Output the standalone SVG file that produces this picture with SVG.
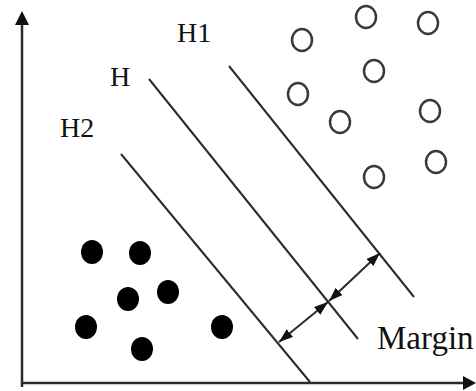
<svg xmlns="http://www.w3.org/2000/svg" width="476" height="391" viewBox="0 0 476 391">
  <defs>
    <style>
      .axis { stroke: #2b2b2b; stroke-width: 2.5; fill: none; }
      .hyper { stroke: #2b2b2b; stroke-width: 2; fill: none; }
      .margin-arrow { stroke: #2b2b2b; stroke-width: 2; fill: none; marker-start: url(#head); marker-end: url(#head); }
      .open { fill: #fff; stroke: #3a3a3a; stroke-width: 2.5; }
      .solid { fill: #000; stroke: none; }
      .label { font-family: "Liberation Serif", "Times New Roman", serif; font-size: 28px; fill: #111; }
    </style>
    <marker id="head" markerUnits="userSpaceOnUse" markerWidth="15" markerHeight="11" refX="14" refY="5" orient="auto-start-reverse">
      <path d="M0,0 L14,5 L0,10 z" fill="#111"/>
    </marker>
  </defs>

  <rect width="476" height="391" fill="#fff"/>

  <!-- coordinate axes -->
  <g id="axes">
    <line class="axis" x1="22" y1="387" x2="22" y2="22"/>
    <path d="M22,11 L29,25 L15,25 z" fill="#111"/>
    <line class="axis" x1="21" y1="383" x2="466" y2="383"/>
    <path d="M476,383 L463,376 L463,390 z" fill="#111"/>
  </g>

  <!-- separating hyperplanes and margin arrows -->
  <g id="connectors">
    <line class="hyper" x1="121" y1="154" x2="310" y2="382"/>
    <line class="hyper" x1="149" y1="79" x2="358" y2="339"/>
    <line class="hyper" x1="229" y1="66" x2="414" y2="297"/>
    <line class="margin-arrow" x1="279" y1="342" x2="328" y2="302"/>
    <line class="margin-arrow" x1="329" y1="301" x2="380" y2="253"/>
  </g>

  <!-- class +1 samples -->
  <g id="class-open">
    <ellipse class="open" cx="302" cy="40" rx="10" ry="11"/>
    <ellipse class="open" cx="366" cy="17" rx="10" ry="11"/>
    <ellipse class="open" cx="428" cy="23" rx="10" ry="11"/>
    <ellipse class="open" cx="374" cy="71" rx="10" ry="11"/>
    <ellipse class="open" cx="298" cy="94" rx="10" ry="11"/>
    <ellipse class="open" cx="340" cy="122" rx="10" ry="11"/>
    <ellipse class="open" cx="430" cy="111" rx="10" ry="11"/>
    <ellipse class="open" cx="436" cy="162" rx="10" ry="11"/>
    <ellipse class="open" cx="374" cy="177" rx="10" ry="11"/>
  </g>

  <!-- class -1 samples -->
  <g id="class-solid">
    <ellipse class="solid" cx="92" cy="252" rx="11" ry="12"/>
    <ellipse class="solid" cx="140" cy="253" rx="11" ry="12"/>
    <ellipse class="solid" cx="128" cy="299" rx="11" ry="12"/>
    <ellipse class="solid" cx="168" cy="292" rx="11" ry="12"/>
    <ellipse class="solid" cx="86" cy="327" rx="11" ry="12"/>
    <ellipse class="solid" cx="142" cy="349" rx="11" ry="12"/>
    <ellipse class="solid" cx="222" cy="327" rx="11" ry="12"/>
  </g>

  <g id="label-h1"><text class="label" x="177" y="42">H1</text></g>
  <g id="label-h"><text class="label" x="110" y="86">H</text></g>
  <g id="label-h2"><text class="label" x="60" y="137">H2</text></g>
  <g id="label-margin"><text class="label" x="377" y="349" style="font-size:33px">Margin</text></g>
</svg>
